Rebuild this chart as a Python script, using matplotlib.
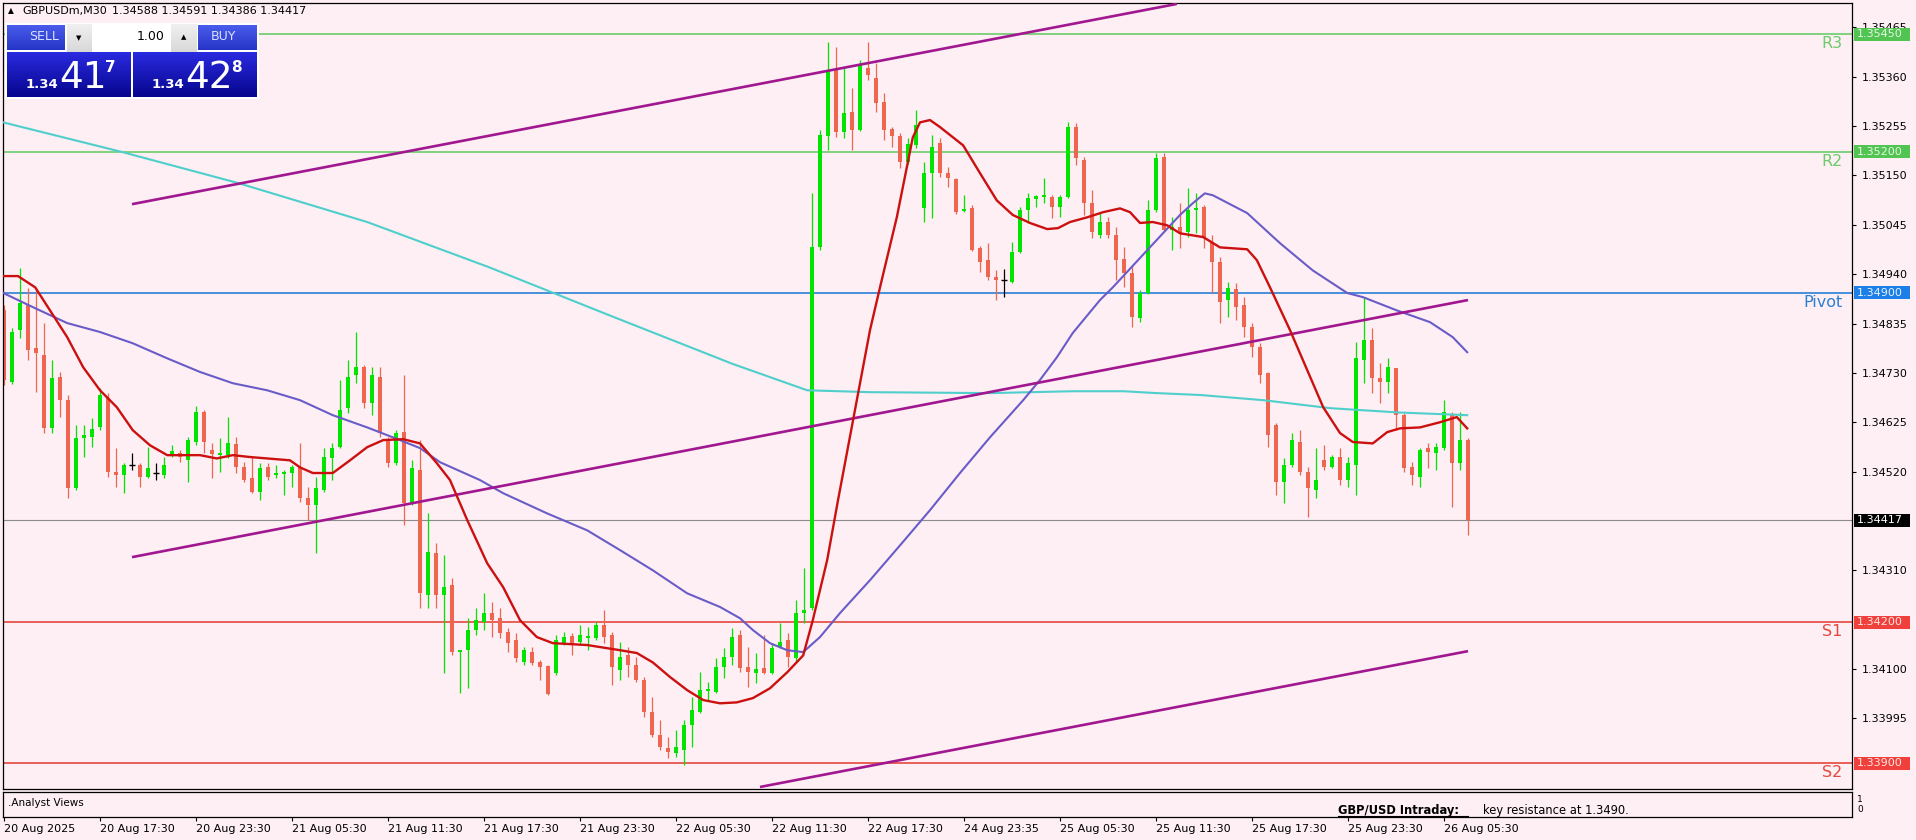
import numpy as np
import matplotlib
matplotlib.use("Agg")
import matplotlib.pyplot as plt
import matplotlib.transforms as mtrans
from matplotlib.patches import Rectangle
from matplotlib.lines import Line2D
from matplotlib.colors import LinearSegmentedColormap

plt.rcParams['font.family'] = ['DejaVu Sans']

W, H = 1916, 840

# ---------------- data ----------------
symbol = "GBPUSDm,M30"
header_ohlc = [1.34588, 1.34591, 1.34386, 1.34417]
sell_quote = ("1.34", "41", "7")
buy_quote = ("1.34", "42", "8")
lot_size = "1.00"

opens = [1.34863,1.34710,1.34821,1.34874,1.34783,1.34768,1.34612,1.34721,1.34672,1.34485,
         1.34591,1.34593,1.34614,1.34676,1.34519,1.34512,1.34534,1.34534,1.34508,1.34517,
         1.34512,1.34557,1.34559,1.34544,1.34583,1.34646,1.34566,1.34555,1.34555,1.34578,
         1.34529,1.34506,1.34476,1.34529,1.34512,1.34514,1.34517,1.34529,1.34463,1.34448,
         1.34480,1.34548,1.34572,1.34655,1.34725,1.34742,1.34665,1.34721,1.34587,1.34538,
         1.34604,1.34453,1.34523,1.34257,1.34346,1.34257,1.34278,1.34136,1.34140,1.34183,
         1.34200,1.34219,1.34208,1.34178,1.34161,1.34114,1.34136,1.34114,1.34106,1.34091,
         1.34155,1.34170,1.34157,1.34165,1.34165,1.34193,1.34172,1.34097,1.34129,1.34108,
         1.34076,1.34008,1.33959,1.33931,1.33921,1.33927,1.33980,1.34008,1.34053,1.34051,
         1.34104,1.34125,1.34172,1.34104,1.34091,1.34102,1.34091,1.34146,1.34161,1.34123,
         1.34219,1.34229,1.34997,1.35234,1.35374,1.35242,1.35285,1.35246,1.35378,1.35357,
         1.35306,1.35248,1.35234,1.35178,1.35214,1.35080,1.35155,1.35219,1.35155,1.35142,
         1.35074,1.35080,1.34995,1.34970,1.34934,1.34927,1.34923,1.34987,1.35076,1.35100,
         1.35104,1.35104,1.35083,1.35104,1.35253,1.35183,1.35091,1.35023,1.35051,1.35023,
         1.34972,1.34942,1.34846,1.34900,1.35076,1.35189,1.35034,1.35040,1.35029,1.35076,
         1.35083,1.35008,1.34965,1.34885,1.34908,1.34874,1.34827,1.34785,1.34729,1.34619,
         1.34497,1.34534,1.34583,1.34519,1.34480,1.34544,1.34529,1.34551,1.34502,1.34534,
         1.34757,1.34800,1.34719,1.34710,1.34740,1.34640,1.34529,1.34508,1.34570,1.34559,
         1.34570,1.34640,1.34538,1.34588]
highs = [1.34874,1.34825,1.34953,1.34910,1.34906,1.34836,1.34757,1.34732,1.34683,1.34619,
         1.34619,1.34634,1.34697,1.34687,1.34570,1.34538,1.34559,1.34538,1.34572,1.34538,
         1.34551,1.34576,1.34566,1.34593,1.34659,1.34651,1.34580,1.34591,1.34636,1.34593,
         1.34540,1.34551,1.34538,1.34538,1.34534,1.34523,1.34534,1.34580,1.34487,1.34508,
         1.34570,1.34580,1.34715,1.34757,1.34817,1.34746,1.34742,1.34742,1.34593,1.34608,
         1.34725,1.34544,1.34587,1.34431,1.34368,1.34342,1.34293,1.34140,1.34208,1.34229,
         1.34261,1.34242,1.34229,1.34187,1.34176,1.34146,1.34146,1.34119,1.34108,1.34172,
         1.34178,1.34176,1.34193,1.34189,1.34200,1.34225,1.34178,1.34157,1.34146,1.34125,
         1.34083,1.34040,1.33991,1.33955,1.33970,1.33991,1.34040,1.34093,1.34072,1.34123,
         1.34144,1.34187,1.34183,1.34146,1.34134,1.34172,1.34155,1.34197,1.34176,1.34246,
         1.34314,1.35112,1.35246,1.35434,1.35423,1.35378,1.35336,1.35395,1.35434,1.35389,
         1.35325,1.35253,1.35240,1.35229,1.35289,1.35178,1.35236,1.35229,1.35168,1.35144,
         1.35108,1.35087,1.35000,1.35006,1.34948,1.34951,1.35008,1.35083,1.35112,1.35108,
         1.35144,1.35108,1.35108,1.35263,1.35261,1.35189,1.35119,1.35072,1.35061,1.35040,
         1.34997,1.34959,1.34906,1.35097,1.35197,1.35197,1.35061,1.35091,1.35123,1.35112,
         1.35087,1.35023,1.34976,1.34923,1.34921,1.34891,1.34836,1.34793,1.34732,1.34623,
         1.34548,1.34602,1.34608,1.34529,1.34570,1.34576,1.34555,1.34570,1.34551,1.34795,
         1.34891,1.34825,1.34751,1.34761,1.34740,1.34644,1.34540,1.34570,1.34580,1.34580,
         1.34672,1.34646,1.34646,1.34591]
lows = [1.34704,1.34706,1.34804,1.34757,1.34689,1.34602,1.34602,1.34636,1.34463,1.34480,
        1.34551,1.34572,1.34608,1.34508,1.34487,1.34474,1.34523,1.34487,1.34506,1.34502,
        1.34506,1.34551,1.34540,1.34497,1.34576,1.34559,1.34506,1.34519,1.34548,1.34517,
        1.34497,1.34474,1.34459,1.34502,1.34506,1.34470,1.34487,1.34455,1.34417,1.34346,
        1.34476,1.34502,1.34570,1.34644,1.34708,1.34655,1.34640,1.34593,1.34529,1.34534,
        1.34406,1.34448,1.34229,1.34229,1.34229,1.34091,1.34129,1.34049,1.34059,1.34172,
        1.34183,1.34168,1.34165,1.34136,1.34114,1.34108,1.34108,1.34076,1.34044,1.34087,
        1.34151,1.34129,1.34151,1.34140,1.34161,1.34155,1.34065,1.34076,1.34083,1.34072,
        1.33997,1.33955,1.33927,1.33910,1.33912,1.33895,1.33934,1.34006,1.34034,1.34049,
        1.34080,1.34108,1.34093,1.34061,1.34070,1.34089,1.34089,1.34144,1.34104,1.34114,
        1.34197,1.34225,1.34991,1.35204,1.35231,1.35229,1.35204,1.35244,1.35353,1.35285,
        1.35225,1.35210,1.35166,1.35174,1.35208,1.35051,1.35059,1.35146,1.35125,1.35068,
        1.35072,1.34989,1.34944,1.34927,1.34885,1.34891,1.34921,1.34985,1.35049,1.35083,
        1.35091,1.35059,1.35061,1.35102,1.35172,1.35066,1.35017,1.35017,1.35017,1.34927,
        1.34912,1.34827,1.34838,1.34897,1.35072,1.35029,1.34991,1.34995,1.35019,1.35027,
        1.34995,1.34900,1.34836,1.34849,1.34842,1.34806,1.34763,1.34708,1.34572,1.34470,
        1.34453,1.34529,1.34512,1.34423,1.34463,1.34523,1.34527,1.34491,1.34487,1.34470,
        1.34708,1.34687,1.34665,1.34687,1.34608,1.34519,1.34491,1.34487,1.34527,1.34523,
        1.34566,1.34444,1.34523,1.34386]
closes = [1.34715,1.34817,1.34878,1.34778,1.34772,1.34612,1.34719,1.34672,1.34485,1.34591,
          1.34597,1.34610,1.34683,1.34519,1.34512,1.34534,1.34534,1.34508,1.34527,1.34517,
          1.34534,1.34563,1.34551,1.34587,1.34646,1.34583,1.34557,1.34559,1.34580,1.34529,
          1.34502,1.34476,1.34527,1.34508,1.34517,1.34519,1.34529,1.34463,1.34448,1.34485,
          1.34551,1.34570,1.34651,1.34721,1.34742,1.34665,1.34725,1.34602,1.34538,1.34602,
          1.34453,1.34527,1.34261,1.34348,1.34257,1.34274,1.34136,1.34140,1.34183,1.34204,
          1.34219,1.34204,1.34176,1.34155,1.34123,1.34140,1.34112,1.34104,1.34046,1.34161,
          1.34168,1.34155,1.34172,1.34170,1.34193,1.34168,1.34104,1.34125,1.34108,1.34076,
          1.34008,1.33959,1.33934,1.33923,1.33934,1.33980,1.34012,1.34055,1.34057,1.34104,
          1.34125,1.34168,1.34102,1.34093,1.34100,1.34091,1.34144,1.34157,1.34125,1.34219,
          1.34225,1.34997,1.35236,1.35374,1.35242,1.35283,1.35246,1.35385,1.35363,1.35304,
          1.35246,1.35234,1.35178,1.35217,1.35257,1.35155,1.35210,1.35155,1.35144,1.35072,
          1.35078,1.34991,1.34965,1.34934,1.34927,1.34927,1.34987,1.35076,1.35102,1.35106,
          1.35108,1.35083,1.35104,1.35253,1.35187,1.35091,1.35029,1.35051,1.35023,1.34970,
          1.34942,1.34849,1.34900,1.35076,1.35187,1.35034,1.35040,1.35027,1.35076,1.35080,
          1.35017,1.34965,1.34880,1.34910,1.34870,1.34827,1.34785,1.34725,1.34597,1.34497,
          1.34534,1.34587,1.34519,1.34485,1.34502,1.34529,1.34551,1.34502,1.34538,1.34761,
          1.34800,1.34719,1.34710,1.34742,1.34640,1.34527,1.34512,1.34566,1.34561,1.34572,
          1.34646,1.34538,1.34587,1.34417]

# moving averages (bar position, price)
ma_fast_bars = [-0.1,1.75,3.9,5.75,7.9,9.9,12,14.1,16.1,18.25,20.4,22.4,24.5,26.6,28.6,30.75,32.9,35.75,37,38.6,
                41.1,43.25,45.4,47.4,49.9,52,54.1,55.75,57.9,60.4,62.4,64.5,66.6,68.6,72.9,77,79.1,81.1,83.25,85.4,
                87.4,89.5,91.6,93.6,95.75,97.9,99.9,101.1,102.9,104.25,108.25,109.5,111.6,113.6,114.5,115.75,117,119.9,122,124.1,
                126.1,128.25,130.4,131.75,133.25,135.4,137.4,139.5,140.75,142,143.6,145.4,147,149.9,152,155.4,156.6,158.25,160.75,162.9,
                164.9,167,168.6,171.1,172.9,174.5,177,179.5,181.6,182.9]
ma_fast_vals = [1.34936,1.34936,1.34912,1.34863,1.34806,1.34742,1.34693,1.34657,1.34608,1.34576,1.34555,1.34555,1.34555,1.34548,1.34555,1.34551,1.34548,1.34544,1.34529,1.34517,
                1.34517,1.34544,1.34572,1.34587,1.34589,1.34580,1.34538,1.34502,1.34417,1.34325,1.34274,1.34204,1.34168,1.34155,1.34151,1.34140,1.34134,1.34114,1.34083,1.34055,
                1.34034,1.34027,1.34029,1.34038,1.34059,1.34093,1.34129,1.34204,1.34332,1.34459,1.34821,1.34912,1.35061,1.35231,1.35263,1.35268,1.35253,1.35214,1.35155,1.35097,
                1.35066,1.35049,1.35036,1.35038,1.35051,1.35061,1.35072,1.35080,1.35072,1.35049,1.35051,1.35044,1.35027,1.35019,1.34997,1.34993,1.34970,1.34912,1.34821,1.34736,
                1.34657,1.34602,1.34583,1.34580,1.34604,1.34612,1.34614,1.34625,1.34636,1.34612]
ma_mid_bars = [-0.1,3.6,7.9,12,16.1,20.4,24.5,28.6,32.9,37,41.1,45.4,49.5,52,54.5,59.5,62.4,67.9,72.9,77,
               81.1,85.4,89.5,92,93.6,95.75,97.9,99.9,102,104.5,108.25,112,115.75,119.5,123.25,127.4,129.5,131.6,133.6,137,
               138.6,142.9,147,148.6,150.1,151.1,155.4,159.5,163.6,167.9,169.9,174.1,178.25,181.1,182.9]
ma_mid_vals = [1.34900,1.34870,1.34836,1.34817,1.34793,1.34761,1.34732,1.34708,1.34693,1.34672,1.34640,1.34614,1.34587,1.34570,1.34540,1.34502,1.34474,1.34431,1.34395,1.34353,
               1.34310,1.34261,1.34232,1.34208,1.34183,1.34155,1.34140,1.34136,1.34168,1.34219,1.34289,1.34363,1.34438,1.34517,1.34593,1.34672,1.34715,1.34763,1.34815,1.34885,
               1.34912,1.34991,1.35066,1.35091,1.35112,1.35108,1.35070,1.35006,1.34948,1.34900,1.34891,1.34863,1.34838,1.34806,1.34774]
ma_slow_bars = [-0.1,14.75,29.25,45.4,60.6,75.9,91.1,100.4,108.25,123.25,133.6,139.9,144.1,149.5,157.4,165.75,174.1,182.9]
ma_slow_vals = [1.35263,1.35200,1.35134,1.35051,1.34955,1.34851,1.34749,1.34693,1.34689,1.34687,1.34691,1.34691,1.34687,1.34683,1.34672,1.34655,1.34646,1.34640]

# channel trend lines (bar, price) end points
chan_upper = ([16, 146.6], [1.35089, 1.35515])
chan_lower = ([16, 183], [1.34338, 1.34885])
chan_bottom = ([94.5, 183], [1.33849, 1.34138])

level_names = ["R3", "R2", "Pivot", "S1", "S2"]
level_values = [1.3545, 1.3520, 1.3490, 1.3420, 1.3390]
level_colors = ["#6CCB6C", "#6CCB6C", "#2A7FD6", "#E5473F", "#E5473F"]
level_tag_colors = ["#52C452", "#52C452", "#1C7FE8", "#F0403C", "#F0403C"]
last_price = 1.34417

# visible right-axis ticks (the ones hidden behind price tags are left out)
price_ticks = [1.35465,1.35360,1.35255,1.35150,1.35045,1.34940,1.34835,1.34730,1.34625,
               1.34520,1.34310,1.34100,1.33995]
date_tick_bars = [0,12,24,36,48,60,72,84,96,108,120,132,144,156,168,180]
date_labels = ["20 Aug 2025","20 Aug 17:30","20 Aug 23:30","21 Aug 05:30","21 Aug 11:30",
               "21 Aug 17:30","21 Aug 23:30","22 Aug 05:30","22 Aug 11:30","22 Aug 17:30",
               "24 Aug 23:35","25 Aug 05:30","25 Aug 11:30","25 Aug 17:30","25 Aug 23:30",
               "26 Aug 05:30"]
indicator_name = ".Analyst Views"
analyst_title = "GBP/USD Intraday:"
analyst_text = "key resistance at 1.3490."

# ---------------- style ----------------
BG = "#FDEFF3"
BULL = "#00E400"
BEAR = "#EF6650"
X_MIN, X_MAX = -0.125, 231.0
Y_MIN, Y_MAX = 1.338447, 1.355170

fig = plt.figure(figsize=(W / 100, H / 100), dpi=100, facecolor=BG)

def px_rect(x0, y0, x1, y1):
    return [x0 / W, 1 - y1 / H, (x1 - x0) / W, (y1 - y0) / H]

ax = fig.add_axes(px_rect(3, 3, 1852, 789))
ax.set_facecolor(BG)
ax.set_xlim(X_MIN, X_MAX)
ax.set_ylim(Y_MIN, Y_MAX)
for s in ax.spines.values():
    s.set_color("black"); s.set_linewidth(0.9)
ax.set_xticks([])
ax.yaxis.tick_right()
ax.set_yticks(price_ticks)
ax.set_yticklabels([f"{v:.5f}" for v in price_ticks])
ax.tick_params(axis="y", direction="out", length=3, width=0.8, labelsize=8, pad=4,
               colors="black")

yr = (Y_MAX - Y_MIN) / 786.0  # price per pixel

# level lines
for nm, v, c in zip(level_names, level_values, level_colors):
    ax.axhline(v, color=c, lw=1.2, zorder=1)
    tr = mtrans.offset_copy(ax.get_yaxis_transform(), fig=fig, x=0, y=-2, units="dots")
    ax.text(0.9947, v, nm, transform=tr, ha="right", va="top", color=c,
            fontsize=11.5, zorder=4)
ax.axhline(last_price, color="#8C8C8C", lw=0.8, zorder=1)

# candles
x = np.arange(len(opens))
o = np.array(opens); h = np.array(highs); l = np.array(lows); c = np.array(closes)
cols = np.where(c > o, BULL, np.where(c < o, BEAR, "black"))
ax.vlines(x, l, h, colors=cols, lw=0.9, zorder=2)
body_lo = np.minimum(o, c)
body_h = np.maximum(np.abs(c - o), 1.0 * yr)
mask = c != o
ax.bar(x[mask], body_h[mask], bottom=body_lo[mask], width=0.62, color=cols[mask],
       linewidth=0, zorder=2.1)
dm = ~mask
ax.hlines(o[dm], x[dm] - 0.35, x[dm] + 0.35, colors="black", lw=1.0, zorder=2.1)

# moving averages
ax.plot(ma_slow_bars, ma_slow_vals, color="#4FCFCB", lw=1.5, zorder=3)
ax.plot(ma_mid_bars, ma_mid_vals, color="#6A5CC8", lw=1.5, zorder=3)
ax.plot(ma_fast_bars, ma_fast_vals, color="#CC1010", lw=1.7, zorder=3.2)

# channel lines
for bx, by in (chan_upper, chan_lower, chan_bottom):
    ax.plot(bx, by, color="#A0178F", lw=1.9, zorder=3.1, solid_capstyle="butt")

# right price tags
trb = ax.get_yaxis_transform()
tags = list(zip(level_values, level_tag_colors, ["#E4F7E4", "#E4F7E4", "#E6F0FF", "#FFE6E6", "#FFE6E6"]))
tags.append((last_price, "black", "white"))
for v, fc, tc in tags:
    ax.add_patch(Rectangle((1 + 2 / 1849, v - 6.5 * yr), 56 / 1849, 13 * yr, transform=trb,
                           facecolor=fc, edgecolor="none", clip_on=False, zorder=10))
    ax.text(1 + 5 / 1849, v, f"{v:.5f}", transform=trb, ha="left", va="center",
            fontsize=8, color=tc, zorder=11, clip_on=False)

# ---------------- indicator panel ----------------
ax2 = fig.add_axes(px_rect(3, 792, 1852, 817))
ax2.set_facecolor(BG)
ax2.set_xlim(X_MIN, X_MAX)
ax2.set_ylim(0, 1)
ax2.set_yticks([])
for s in ax2.spines.values():
    s.set_color("black"); s.set_linewidth(0.9)
ax2.set_xticks(date_tick_bars)
ax2.set_xticklabels(date_labels, ha="left")
ax2.tick_params(axis="x", direction="out", length=3, width=0.8, labelsize=8, pad=2)
fig.text(8 / W, 1 - 803 / H, indicator_name, fontsize=7.5, va="center", ha="left")
fig.text(1338 / W, 1 - 814 / H, analyst_title, fontsize=8.3, fontweight="bold",
         va="baseline", ha="left")
fig.text(1483 / W, 1 - 814 / H, analyst_text, fontsize=8.3, va="baseline", ha="left")
fig.add_artist(Line2D([1338 / W, 1468 / W], [1 - 816 / H, 1 - 816 / H], color="black", lw=0.8))
fig.text(1857 / W, 1 - 799 / H, "1", fontsize=6.5, va="center", ha="left")
fig.text(1857 / W, 1 - 809 / H, "0", fontsize=6.5, va="center", ha="left")

# ---------------- header & trade panel ----------------
fig.text(8 / W, 1 - 11 / H, "\u25b2", fontsize=5.5, va="center", ha="left")
fig.text(22 / W, 1 - 11 / H, symbol, fontsize=8, va="center", ha="left")
fig.text(112 / W, 1 - 11 / H, " ".join(f"{v:.5f}" for v in header_ohlc), fontsize=8,
         va="center", ha="left")

def grad_box(x0, y0, x1, y1, ctop, cbot):
    a = fig.add_axes(px_rect(x0, y0, x1, y1))
    a.axis("off")
    cmap = LinearSegmentedColormap.from_list("g", [ctop, cbot])
    a.imshow(np.linspace(0, 1, 64)[:, None], aspect="auto", cmap=cmap,
             extent=[0, 1, 0, 1])
    return a

grad_box(5, 23, 259, 99, "#FFFFFF", "#FFFFFF")
grad_box(7, 25, 65, 50, "#4A5CEB", "#2636C8")
grad_box(198, 25, 257, 50, "#4A5CEB", "#2636C8")
grad_box(7, 52, 131, 97, "#2A2AE0", "#06068E")
grad_box(133, 52, 257, 97, "#2A2AE0", "#06068E")
grad_box(67, 24, 197, 52, "#FFFFFF", "#FFFFFF")
grad_box(67, 24, 92, 52, "#F0F0F0", "#D8D8D8")
grad_box(171, 24, 197, 52, "#F0F0F0", "#D8D8D8")
fig.text(29 / W, 1 - 37 / H, "SELL", fontsize=9, color="#D8E2FF", va="center", ha="left")
fig.text(211 / W, 1 - 37 / H, "BUY", fontsize=9, color="#D8E2FF", va="center", ha="left")
fig.text(79 / W, 1 - 38 / H, "\u25bc", fontsize=5, color="black", va="center", ha="center")
fig.text(184 / W, 1 - 37 / H, "\u25b2", fontsize=5, color="black", va="center", ha="center")
fig.text(165 / W, 1 - 37 / H, lot_size, fontsize=9, color="black", va="center", ha="right")
for (a_, b_, c_), x0 in ((sell_quote, 26), (buy_quote, 152)):
    fig.text(x0 / W, 1 - 88 / H, a_, fontsize=9.5, fontweight="bold", color="white",
             va="baseline", ha="left")
    fig.text((x0 + 33) / W, 1 - 88 / H, b_, fontsize=27, color="white",
             va="baseline", ha="left")
    fig.text((x0 + 79) / W, 1 - 72 / H, c_, fontsize=11, fontweight="bold", color="white",
             va="baseline", ha="left")

fig.savefig("out.png", dpi=100, facecolor=BG)
